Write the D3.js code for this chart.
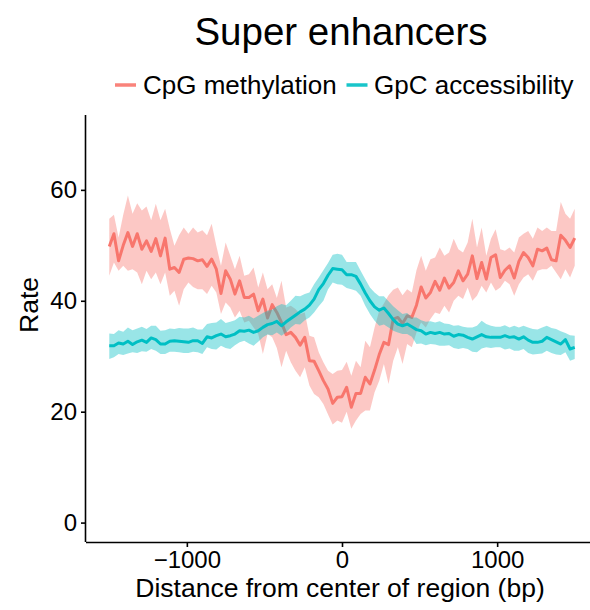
<!DOCTYPE html>
<html>
<head>
<meta charset="utf-8">
<script src="https://cdn.jsdelivr.net/npm/d3@7"></script>
<style>
  body { margin: 0; background: #fff; }
  text { font-family: "Liberation Sans", Arial, sans-serif; fill: #000; }
</style>
</head>
<body>
<div id="chart"></div>
<script>
// distance from region center (bp)
var distance = [-1500,-1470,-1440,-1410,-1380,-1350,-1320,-1290,-1260,-1230,
  -1200,-1170,-1140,-1110,-1080,-1050,-1020,-990,-960,-930,
  -900,-870,-840,-810,-780,-750,-720,-690,-660,-630,
  -600,-570,-540,-510,-480,-450,-420,-390,-360,-330,
  -300,-270,-240,-210,-180,-150,-120,-90,-60,-30,
  0,30,60,90,120,150,180,210,240,270,
  300,330,360,390,420,450,480,510,540,570,
  600,630,660,690,720,750,780,810,840,870,
  900,930,960,990,1020,1050,1080,1110,1140,1170,
  1200,1230,1260,1290,1320,1350,1380,1410,1440,1470,1500];

// CpG methylation mean and ribbon
var cpgMean = [49.8,52.1,47.2,50.0,52.3,49.8,52.1,49.3,50.8,48.9,
  51.2,48.1,51.3,45.7,46.0,45.1,47.5,47.7,47.6,47.2,
  47.4,46.2,47.5,45.7,41.3,45.4,43.9,41.2,43.6,40.6,
  40.6,41.2,38.2,40.3,36.9,39.3,37.9,36.1,33.9,34.3,
  33.4,32.0,33.4,29.2,29.1,27.4,25.6,24.1,21.5,22.6,
  22.7,24.4,20.8,23.3,23.3,26.2,25.0,27.5,30.3,32.5,
  32.1,36.7,37.0,35.9,37.3,37.0,39.2,42.5,40.5,41.5,
  43.5,41.9,44.1,42.3,43.3,45.4,43.6,44.8,48.1,44.0,
  46.9,43.9,47.8,48.3,44.2,45.5,46.3,44.1,47.1,48.7,
  47.8,46.3,49.3,49.0,49.5,47.4,47.2,51.8,50.9,49.6,51.3];
var cpgHigh = [54.8,55.5,51.4,55.5,59.0,55.7,57.6,56.3,57.0,54.5,
  57.5,54.5,56.6,53.0,49.9,51.8,53.2,52.1,53.2,52.3,
  52.7,51.8,53.9,49.9,46.3,50.5,48.1,45.7,48.1,44.5,
  44.8,46.0,42.4,45.1,42.1,43.0,40.5,43.6,38.8,39.1,
  38.5,37.6,37.9,33.7,33.4,30.7,28.9,27.4,26.8,27.4,
  27.5,29.0,26.5,29.2,28.0,32.8,31.6,35.2,38.2,39.5,
  41.0,42.0,42.4,41.0,42.1,41.5,45.5,48.1,45.4,47.5,
  47.8,49.6,48.1,48.7,51.2,49.3,48.7,50.5,54.8,49.6,
  53.2,48.1,51.2,52.9,49.3,49.0,49.6,48.7,51.4,52.1,
  52.6,51.2,53.2,52.6,53.2,52.6,52.6,57.8,55.7,54.8,56.6];
var cpgLow = [44.5,46.9,45.4,46.3,45.4,45.7,45.1,43.0,45.4,43.9,
  45.1,43.0,45.1,40.9,41.8,39.1,42.1,43.3,42.5,42.1,
  42.1,41.2,42.7,41.5,37.6,39.7,38.8,37.0,38.2,36.1,
  36.4,35.2,34.0,30.4,34.0,33.4,31.5,28.0,31.0,28.9,
  27.4,26.2,28.0,24.7,23.2,22.6,21.4,19.5,17.7,18.4,
  18.0,20.0,16.9,18.4,19.6,20.2,20.2,23.5,25.6,28.6,
  25.0,29.2,31.6,28.6,32.2,31.6,34.3,36.1,35.2,36.7,
  37.9,37.6,39.1,37.9,40.0,40.9,40.3,42.4,40.0,40.9,
  42.7,41.5,43.3,41.8,42.4,43.6,43.0,40.9,43.0,44.2,
  44.8,43.6,45.4,45.7,45.7,46.3,45.1,43.9,45.7,44.2,46.3];

// GpC accessibility mean and ribbon
var gpcMean = [31.9,31.9,32.4,32.2,32.7,32.1,32.6,32.9,32.5,33.3,
  33.0,32.2,32.2,32.7,32.8,32.7,32.6,32.5,32.8,32.8,
  32.3,33.5,33.3,33.7,34.0,33.5,33.7,34.0,34.6,34.5,
  34.7,34.3,34.6,35.2,35.7,35.9,36.3,35.5,36.2,36.8,
  37.4,38.0,38.5,39.2,40.3,42.0,43.1,44.6,45.8,45.7,
  45.6,44.7,44.7,44.4,43.0,41.4,40.0,38.9,38.3,38.7,
  37.7,36.6,35.8,35.5,35.8,35.3,34.8,34.6,34.0,34.3,
  34.1,34.3,34.0,34.1,33.6,33.9,33.8,33.4,33.1,33.5,
  33.9,33.5,33.4,33.4,33.4,33.7,33.4,33.5,33.1,33.5,
  32.9,32.5,32.5,32.7,33.4,33.0,32.6,32.2,33.0,31.3,31.6];
var gpcHigh = [34.1,34.0,34.7,34.4,35.2,34.7,35.0,35.3,34.9,35.5,
  35.5,34.6,34.7,35.0,34.9,35.1,35.0,35.0,35.2,34.8,
  34.8,35.8,36.0,36.1,36.7,36.0,36.2,36.5,37.1,37.0,
  37.3,36.8,37.3,37.8,38.2,38.4,39.0,39.4,39.2,40.0,
  40.9,40.8,41.2,41.5,43.0,44.2,45.5,46.8,48.3,48.5,
  48.3,47.0,47.0,47.0,45.4,43.9,42.4,41.5,40.8,40.8,
  39.9,39.0,38.3,37.6,37.8,37.0,37.0,36.5,36.2,36.3,
  36.1,36.3,35.9,35.8,35.5,35.6,35.3,35.2,35.2,35.5,
  36.4,35.8,35.5,35.3,35.3,35.6,35.2,35.5,35.2,35.5,
  35.2,34.9,34.8,35.2,35.5,35.1,34.9,34.5,34.2,33.8,33.7];
var gpcLow = [29.5,29.8,30.4,30.2,30.5,30.7,30.6,30.9,30.8,31.3,
  31.0,30.4,30.4,30.8,30.8,30.7,30.6,30.6,30.8,30.7,
  30.4,31.6,31.3,31.2,31.9,31.5,31.3,32.0,32.5,32.8,
  32.3,31.9,32.6,33.4,33.9,33.8,34.3,33.7,34.3,35.2,
  35.8,35.7,36.5,37.0,37.9,39.0,40.0,42.1,43.3,43.0,
  42.9,42.3,42.1,41.8,40.9,39.1,37.6,36.4,35.5,35.7,
  35.2,34.6,34.3,34.0,34.0,33.5,32.2,32.3,32.0,32.2,
  32.1,31.9,31.9,32.0,31.5,31.3,31.5,31.3,30.8,30.7,
  31.4,31.6,31.5,31.6,31.6,31.2,31.4,31.0,31.0,31.3,
  30.6,30.3,30.4,30.5,31.0,30.6,30.3,30.2,30.7,29.2,29.5];

var seriesNames = ["CpG methylation", "GpC accessibility"];
var seriesColors = ["#F8766D", "#00BFC4"];
var xTicks = [-1000, 0, 1000];
var yTicks = [0, 20, 40, 60];

var svgWidth = 590, svgHeight = 610;
var margin = { top: 115, right: -8, bottom: 68, left: 86 };
var width = svgWidth - margin.left - margin.right;
var height = svgHeight - margin.top - margin.bottom;

var svg = d3.select("#chart").append("svg")
  .attr("width", svgWidth)
  .attr("height", svgHeight);

var chartGroup = svg.append("g")
  .attr("transform", `translate(${margin.left}, ${margin.top})`);

var x = d3.scaleLinear().domain([-1650, 1650]).range([0, width]);
var y = d3.scaleLinear().domain([-3.5, 73.5]).range([height, 0]);

function rows(mean, lo, hi) {
  return distance.map((d, i) => ({ d: d, m: mean[i], lo: lo[i], hi: hi[i] }));
}
var series = [rows(cpgMean, cpgLow, cpgHigh), rows(gpcMean, gpcLow, gpcHigh)];

var area = d3.area().x(r => x(r.d)).y0(r => y(r.lo)).y1(r => y(r.hi));
var line = d3.line().x(r => x(r.d)).y(r => y(r.m));

series.forEach(function (s, i) {
  chartGroup.append("path")
    .datum(s)
    .attr("d", area)
    .attr("fill", seriesColors[i])
    .attr("fill-opacity", 0.4);
  chartGroup.append("path")
    .datum(s)
    .attr("d", line)
    .attr("fill", "none")
    .attr("stroke", seriesColors[i])
    .attr("stroke-width", 3)
    .attr("stroke-linejoin", "round");
});

// axes
var xAxis = chartGroup.append("g")
  .attr("transform", `translate(0, ${height})`)
  .call(d3.axisBottom(x).tickValues(xTicks).tickSize(5).tickPadding(4)
    .tickFormat(d => d < 0 ? "\u2212" + Math.abs(d) : d));
var yAxis = chartGroup.append("g")
  .call(d3.axisLeft(y).tickValues(yTicks).tickSize(5).tickPadding(4));

[xAxis, yAxis].forEach(function (ax) {
  ax.select(".domain").attr("stroke", "#000").attr("stroke-width", 1.6);
  ax.selectAll(".tick line").attr("stroke", "#000").attr("stroke-width", 1.6);
  ax.selectAll(".tick text").attr("font-size", 24).attr("fill", "#000")
    .style("font-family", "'Liberation Sans', Arial, sans-serif");
});
// ggplot draws axis lines without the end ticks
xAxis.select(".domain").attr("d", `M0,0.5H${width}`);
yAxis.select(".domain").attr("d", `M-0.5,${height}V0`);

// axis titles
svg.append("text")
  .attr("x", 340)
  .attr("y", 597)
  .attr("text-anchor", "middle")
  .attr("font-size", 26.5)
  .text("Distance from center of region (bp)");

svg.append("text")
  .attr("transform", "translate(38, 305) rotate(-90)")
  .attr("text-anchor", "middle")
  .attr("font-size", 26.5)
  .text("Rate");

// title
svg.append("text")
  .attr("x", 341)
  .attr("y", 45)
  .attr("text-anchor", "middle")
  .attr("font-size", 38.5)
  .text("Super enhancers");

// legend
var legend = svg.append("g");
var keyX = [115, 346.5];
var textX = [143, 374];
seriesNames.forEach(function (name, i) {
  legend.append("line")
    .attr("x1", keyX[i]).attr("x2", keyX[i] + 21)
    .attr("y1", 85).attr("y2", 85)
    .attr("stroke", seriesColors[i])
    .attr("stroke-opacity", 0.9)
    .attr("stroke-width", 3.5);
  legend.append("text")
    .attr("x", textX[i])
    .attr("y", 94)
    .attr("font-size", 26)
    .text(name);
});
</script>
</body>
</html>
